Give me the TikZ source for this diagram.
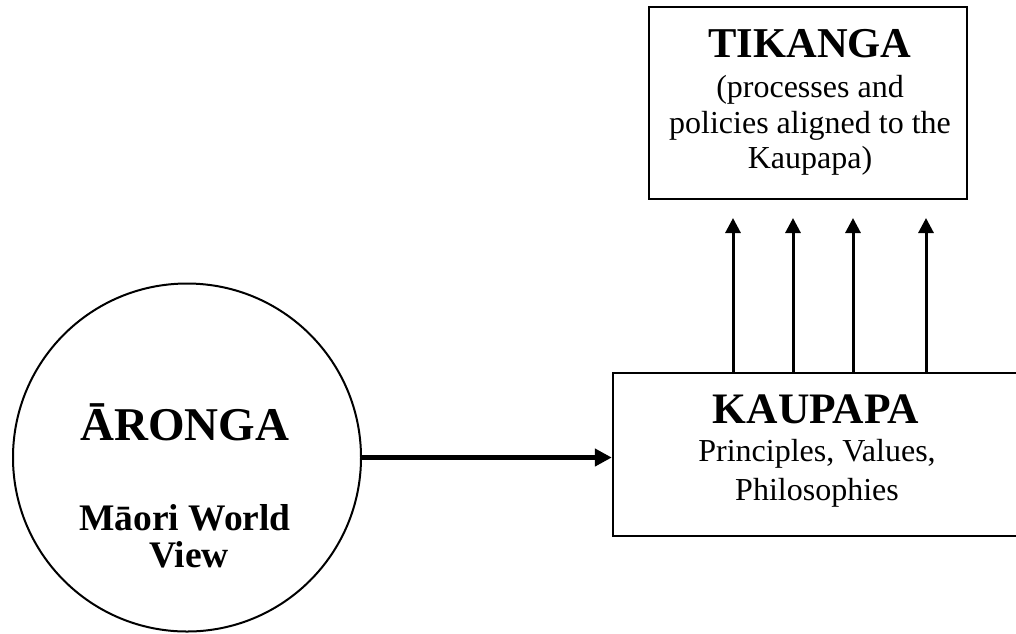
\documentclass[tikz,border=0pt]{standalone}
\usepackage{fontspec}
\setmainfont{Liberation Serif}
\usetikzlibrary{arrows.meta}
\begin{document}
\begin{tikzpicture}[x=1pt,y=-1pt,
  box/.style={draw,line width=2.4pt,inner sep=0pt},
  ttl/.style={font=\fontsize{42.5}{48}\selectfont\bfseries,anchor=base,inner sep=0pt},
  big/.style={font=\fontsize{47}{54}\selectfont\bfseries,anchor=base,inner sep=0pt},
  sub/.style={font=\fontsize{37.5}{42}\selectfont\bfseries,anchor=base,inner sep=0pt},
  body/.style={font=\fontsize{32}{37}\selectfont,anchor=base,inner sep=0pt},
  uparrow/.style={-{Triangle[length=15pt,width=15pt]},line width=3pt},
  mainarrow/.style={-{Triangle[length=17pt,width=17pt]},line width=5pt}
]
\useasboundingbox (0,0) rectangle (1016,633);
\node[box,minimum width=318pt,minimum height=192pt] (tik) at (808,103) {};
\node[box,minimum width=407pt,minimum height=163pt] (kau) at (816.5,454.5) {};
\node[draw,circle,line width=2pt,minimum size=348pt,inner sep=0pt] (aro) at (187,457.5) {};
% texts
\node[ttl] (tikT) at (810,57) {TIKANGA};
\node[body] (tik1) at (810,97) {(processes and};
\node[body] (tik2) at (810,133) {policies aligned to the};
\node[body] (tik3) at (810,168) {Kaupapa)};
\node[ttl,font=\fontsize{43.5}{48}\selectfont\bfseries] (kauT) at (816,423) {KAUPAPA};
\node[body] (kau1) at (817,461) {Principles, Values,};
\node[body] (kau2) at (817,500) {Philosophies};
\node[big] (aroT) at (185,440) {ĀRONGA};
\node[sub] (aro1) at (185,530) {Māori World};
\node[sub] (aro2) at (189,567) {View};
% connectors
\coordinate (t1) at (733,218);
\coordinate (t2) at (793,218);
\coordinate (t3) at (853,218);
\coordinate (t4) at (926,218);
\foreach \t in {t1,t2,t3,t4}
  \draw[uparrow] (kau.north -| \t) -- (\t);
\draw[mainarrow] (aro.east) -- (aro.east -| kau.west);
\end{tikzpicture}
\end{document}
